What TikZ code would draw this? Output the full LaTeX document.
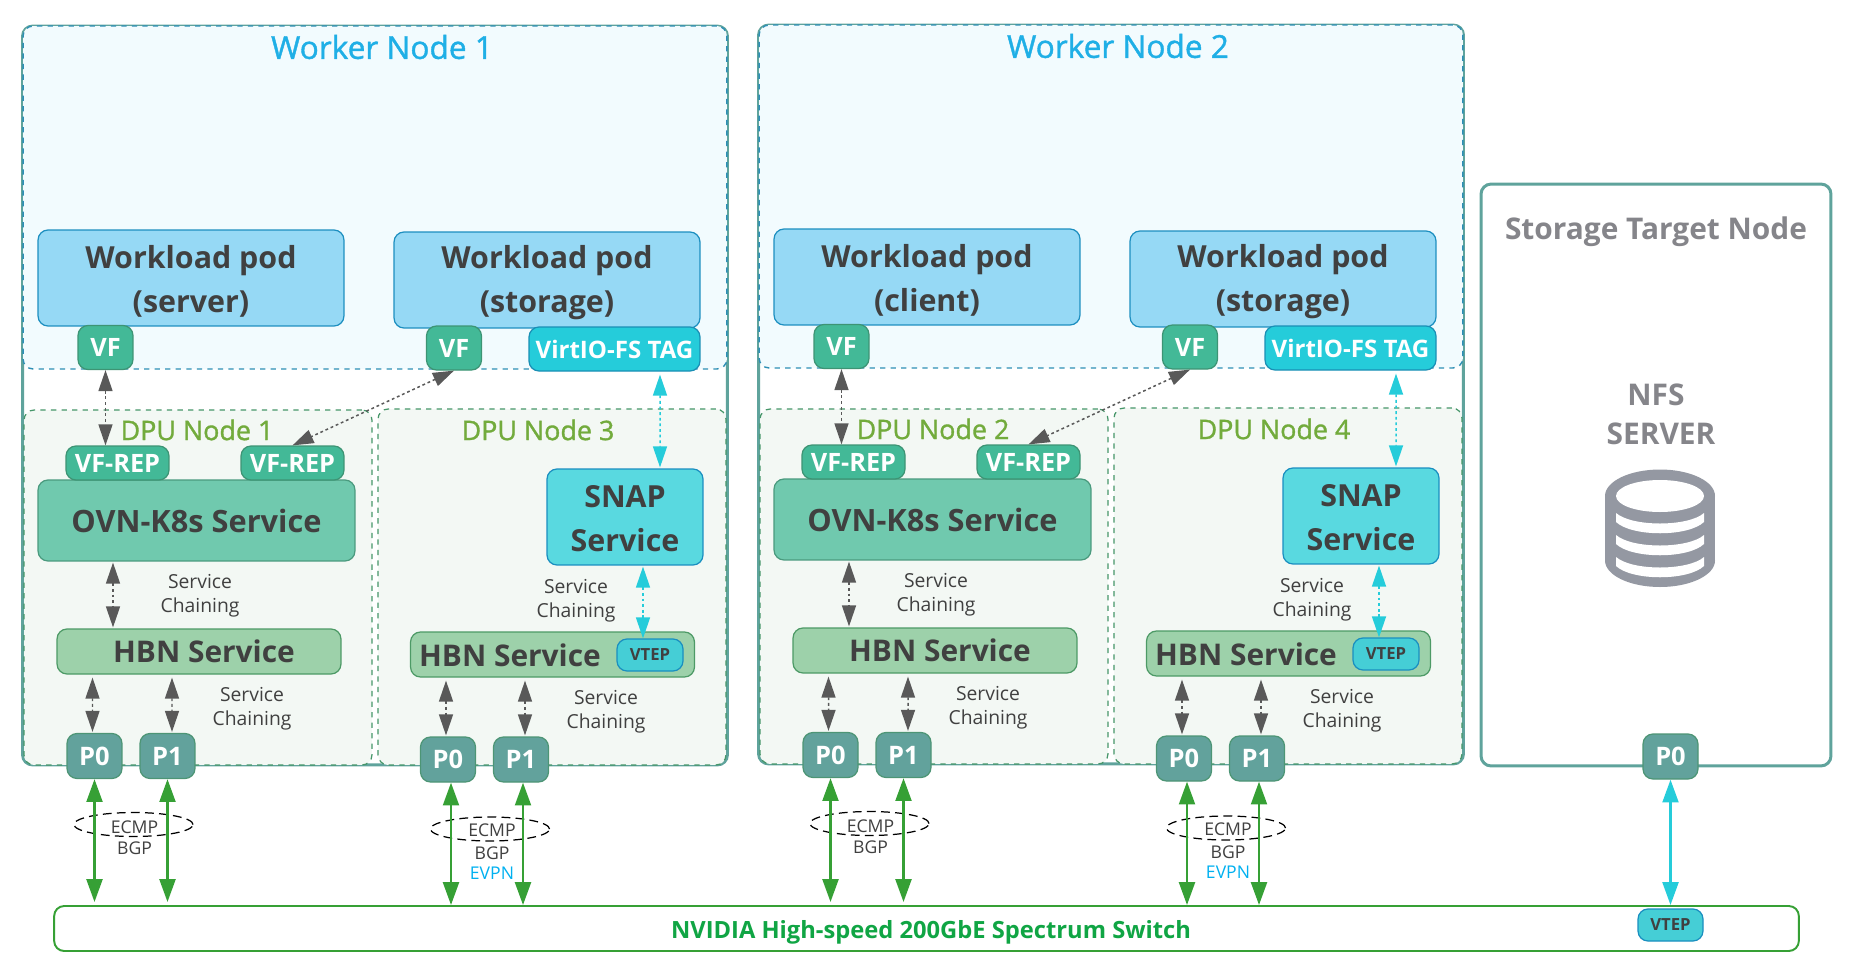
\documentclass[tikz,border=0pt]{standalone}
\usepackage{fontspec}
\setmainfont{Open Sans}
\newfontfamily\medfont[FakeBold=1.2]{Open Sans}
\usetikzlibrary{arrows.meta,calc,shapes.geometric}

\definecolor{txtdark}{HTML}{404040}
\definecolor{wtitle}{HTML}{1FAFE6}
\definecolor{dputitle}{HTML}{72AB3C}
\definecolor{sttitle}{HTML}{85858A}
\definecolor{nvgreen}{HTML}{10A544}
\definecolor{evpnblue}{HTML}{00B0F0}
\definecolor{dbgray}{HTML}{9498A2}

\tikzset{
  workerbox/.style={rectangle,draw={rgb,255:red,95;green,163;blue,156},fill=white,line width=1.7pt,rounded corners=0.2cm},
  hostarea/.style={rectangle,draw={rgb,255:red,46;green,143;blue,181},fill={rgb,255:red,242;green,251;blue,254},
    dashed,line width=0.8pt,rounded corners=0.2cm},
  dpuarea/.style={rectangle,draw={rgb,255:red,70;green,150;blue,105},fill={rgb,255:red,243;green,248;blue,244},
    dashed,line width=0.7pt,rounded corners=0.2cm},
  podbox/.style={rectangle,draw={rgb,255:red,29;green,143;blue,192},fill={rgb,255:red,150;green,217;blue,245},
    rounded corners=0.2cm,line width=0.7pt,minimum width=6.12cm,minimum height=1.92cm,inner sep=0pt},
  bigtext/.style={inner sep=0pt,align=center,text=txtdark,font=\fontsize{17.3}{25}\selectfont\bfseries},
  vfbox/.style={rectangle,draw={rgb,255:red,61;green,148;blue,116},fill={rgb,255:red,67;green,185;blue,151},
    rounded corners=0.2cm,line width=0.7pt,inner sep=0pt,text=white,font=\fontsize{14.4}{15}\selectfont\bfseries},
  tagbox/.style={rectangle,draw={rgb,255:red,26;green,143;blue,181},fill={rgb,255:red,37;green,204;blue,218},
    rounded corners=0.2cm,line width=0.7pt,minimum width=3.42cm,minimum height=0.88cm,inner sep=0pt,
    text=white,font=\fontsize{13.7}{15}\selectfont\bfseries},
  ovnbox/.style={rectangle,draw={rgb,255:red,74;green,154;blue,126},fill={rgb,255:red,112;green,201;blue,174},
    rounded corners=0.2cm,line width=0.7pt,minimum width=6.34cm,minimum height=1.62cm,inner sep=0pt,
    text=txtdark,font=\fontsize{17.5}{20}\selectfont\bfseries},
  snapbox/.style={rectangle,draw={rgb,255:red,26;green,143;blue,192},fill={rgb,255:red,89;green,217;blue,224},
    rounded corners=0.2cm,line width=0.7pt,minimum width=3.12cm,minimum height=1.92cm,inner sep=0pt},
  hbnbox/.style={rectangle,draw={rgb,255:red,77;green,154;blue,102},fill={rgb,255:red,157;green,209;blue,170},
    rounded corners=0.2cm,line width=0.7pt,minimum width=5.68cm,minimum height=0.9cm,inner sep=0pt,
    text=txtdark,font=\fontsize{17}{20}\selectfont\bfseries},
  hbntext/.style={inner sep=0pt,text=txtdark,font=\fontsize{17}{20}\selectfont\bfseries},
  vtepbox/.style={rectangle,draw={rgb,255:red,26;green,143;blue,192},fill={rgb,255:red,69;green,206;blue,214},
    rounded corners=0.2cm,line width=0.7pt,minimum width=1.32cm,minimum height=0.64cm,inner sep=0pt,
    text=txtdark,font=\fontsize{9.5}{11}\selectfont\bfseries},
  portbox/.style={rectangle,draw={rgb,255:red,77;green,149;blue,117},fill={rgb,255:red,98;green,162;blue,156},
    rounded corners=0.2cm,line width=0.7pt,minimum width=1.1cm,minimum height=0.9cm,inner sep=0pt,
    text=white,font=\fontsize{14.5}{15}\selectfont\bfseries},
  switchbox/.style={rectangle,draw={rgb,255:red,54;green,160;blue,53},fill=white,line width=1.1pt,
    rounded corners=0.2cm,minimum width=34.9cm,minimum height=0.9cm,inner sep=0pt},
  switchtext/.style={inner sep=0pt,text=nvgreen,font=\fontsize{13.5}{15}\selectfont\bfseries},
  ecmpring/.style={ellipse,draw=black,dash pattern=on 5pt off 3pt,line width=0.7pt,
    minimum width=2.38cm,minimum height=0.48cm,inner sep=0pt},
  chaintext/.style={inner sep=0pt,align=center,text=txtdark,font=\fontsize{11}{13.5}\selectfont},
  smalltext/.style={inner sep=0pt,text=txtdark,font=\fontsize{10}{11}\selectfont},
  workertitle/.style={inner sep=0pt,text=wtitle,font=\fontsize{18}{20}\medfont},
  dputext/.style={inner sep=0pt,text=dputitle,font=\fontsize{15.3}{17}\medfont},
  greyhead/.style={inner sep=0pt,align=center,text=sttitle,font=\fontsize{17}{22}\selectfont\bfseries},
  chainarrow/.style={draw={rgb,255:red,89;green,89;blue,89},line width=0.85pt,dash pattern=on 1.6pt off 1.6pt,
    {Triangle[length=12pt,width=8pt]}-{Triangle[length=12pt,width=8pt]}},
  cyanarrow/.style={draw={rgb,255:red,37;green,204;blue,218},line width=0.85pt,dash pattern=on 1.6pt off 1.6pt,
    {Triangle[length=12pt,width=8pt]}-{Triangle[length=12pt,width=8pt]}},
  linkarrow/.style={draw={rgb,255:red,54;green,160;blue,53},line width=1.5pt,
    {Triangle[length=13pt,width=9pt]}-{Triangle[length=13pt,width=9pt]}},
  vtepline/.style={draw={rgb,255:red,37;green,204;blue,218},line width=1.5pt,
    {Triangle[length=13pt,width=9pt]}-{Triangle[length=13pt,width=9pt]}},
}

\begin{document}
\begin{tikzpicture}[x=0.02cm,y=-0.02cm]

    \useasboundingbox (0,0) rectangle (1856,970);

    % worker 1
    \node[workerbox,minimum width=14.1cm,minimum height=14.78cm] (w1) at (375,395.5) {};
    \node[hostarea,minimum width=14.08cm,minimum height=6.86cm] (h1) at (375,197.5) {};
    \node[dpuarea,minimum width=6.96cm,minimum height=7.1cm] (d1) at (198,587.5) {};
    \node[dpuarea,minimum width=6.96cm,minimum height=7.12cm] (d3) at (552,587) {};
    \node[workertitle] (t1) at (382,47) {Worker Node 1};
    \node[dputext] (dt1) at (197,430) {DPU Node 1};
    \node[dputext] (dt3) at (538,430) {DPU Node 3};

    \node[podbox] (wp1) at (191,278) {};
    \node[bigtext] (wt1) at (191,281) {Workload pod\\(server)};
    \node[podbox] (wp3) at (547,280) {};
    \node[bigtext] (wt3) at (547,283) {Workload pod\\(storage)};
    \node[vfbox,minimum width=1.1cm,minimum height=0.88cm] (vf1) at (105.5,347.5) {VF};
    \node[vfbox,minimum width=1.1cm,minimum height=0.88cm] (vf3) at (454,348) {VF};
    \node[tagbox] (tag3) at (614.5,349) {VirtIO-FS TAG};

    \node[ovnbox] (ovn1) at (196.5,520.5) {OVN-K8s Service};
    \node[vfbox,minimum width=2.06cm,minimum height=0.68cm] (rep1) at (117.5,463) {VF-REP};
    \node[vfbox,minimum width=2.06cm,minimum height=0.68cm] (rep3) at (292.5,463) {VF-REP};
    \node[snapbox] (snap3) at (625,517) {};
    \node[bigtext] (st3) at (625,519) {SNAP\\Service};

    \node[hbnbox] (hbn1) at (199,651.5) {\hspace{0.2cm}HBN Service};
    \node[hbnbox] (hbn3) at (552.5,654.5) {};
    \node[hbntext] (hbt3) at (510,655) {HBN Service};
    \node[vtepbox] (vt3) at (650,655) {VTEP};

    \node[chaintext] (sc1) at (200,596) {Service\\Chaining};
    \node[chaintext] (sc2) at (252,709) {Service\\Chaining};
    \node[chaintext] (sc3) at (576,601) {Service\\Chaining};
    \node[chaintext] (sc4) at (606,712) {Service\\Chaining};

    \node[portbox] (p01) at (94.5,756) {P0};
    \node[portbox] (p11) at (167.5,756) {P1};
    \node[portbox] (p03) at (448,759.5) {P0};
    \node[portbox] (p13) at (521,759.5) {P1};

    % worker 2
    \node[workerbox,minimum width=14.1cm,minimum height=14.78cm] (w2) at (1111,394.5) {};
    \node[hostarea,minimum width=14.08cm,minimum height=6.86cm] (h2) at (1111,196.5) {};
    \node[dpuarea,minimum width=6.96cm,minimum height=7.1cm] (d2) at (934,586.5) {};
    \node[dpuarea,minimum width=6.96cm,minimum height=7.12cm] (d4) at (1288,586) {};
    \node[workertitle] (t2) at (1118,46) {Worker Node 2};
    \node[dputext] (dt2) at (933,429) {DPU Node 2};
    \node[dputext] (dt4) at (1274,429) {DPU Node 4};

    \node[podbox] (wp2) at (927,277) {};
    \node[bigtext] (wt2) at (927,280) {Workload pod\\(client)};
    \node[podbox] (wp4) at (1283,279) {};
    \node[bigtext] (wt4) at (1283,282) {Workload pod\\(storage)};
    \node[vfbox,minimum width=1.1cm,minimum height=0.88cm] (vf2) at (841.5,346.5) {VF};
    \node[vfbox,minimum width=1.1cm,minimum height=0.88cm] (vf4) at (1190,347) {VF};
    \node[tagbox] (tag4) at (1350.5,348) {VirtIO-FS TAG};

    \node[ovnbox] (ovn2) at (932.5,519.5) {OVN-K8s Service};
    \node[vfbox,minimum width=2.06cm,minimum height=0.68cm] (rep2) at (853.5,462) {VF-REP};
    \node[vfbox,minimum width=2.06cm,minimum height=0.68cm] (rep4) at (1028.5,462) {VF-REP};
    \node[snapbox] (snap4) at (1361,516) {};
    \node[bigtext] (st4) at (1361,518) {SNAP\\Service};

    \node[hbnbox] (hbn2) at (935,650.5) {\hspace{0.2cm}HBN Service};
    \node[hbnbox] (hbn4) at (1288.5,653.5) {};
    \node[hbntext] (hbt4) at (1246,654) {HBN Service};
    \node[vtepbox] (vt4) at (1386,654) {VTEP};

    \node[chaintext] (sc5) at (936,595) {Service\\Chaining};
    \node[chaintext] (sc6) at (988,708) {Service\\Chaining};
    \node[chaintext] (sc7) at (1312,600) {Service\\Chaining};
    \node[chaintext] (sc8) at (1342,711) {Service\\Chaining};

    \node[portbox] (p02) at (830.5,755) {P0};
    \node[portbox] (p12) at (903.5,755) {P1};
    \node[portbox] (p04) at (1184,758.5) {P0};
    \node[portbox] (p14) at (1257,758.5) {P1};

    % storage side
    \node[workerbox,minimum width=7cm,minimum height=11.64cm] (st) at (1656,475) {};
    \node[greyhead] (stt) at (1656,232) {Storage Target Node};
    \node[greyhead] (nfs) at (1661,414) {\hspace{-0.2cm}NFS\\SERVER};
    \node[portbox] (stp) at (1670.5,756.5) {P0};

    \fill[dbgray] (1660,496) ellipse [x radius=55,y radius=26.5];
    \fill[dbgray] (1660,560.5) ellipse [x radius=55,y radius=26.5];
    \fill[dbgray] (1605,496) rectangle (1715,560.5);
    \fill[white] (1660,496) ellipse [x radius=44,y radius=16];
    \fill[white] (1616,513) .. controls (1632,527) and (1688,527) .. (1704,513) -- (1704,522) .. controls (1688,537) and (1632,537) .. (1616,522) -- cycle;
    \fill[white] (1616,535) .. controls (1632,549) and (1688,549) .. (1704,535) -- (1704,544) .. controls (1688,559) and (1632,559) .. (1616,544) -- cycle;
    \fill[white] (1616,557) .. controls (1632,571) and (1688,571) .. (1704,557) -- (1704,566) .. controls (1688,581) and (1632,581) .. (1616,566) -- cycle;

    % switch
    \node[switchbox] (sw) at (926.5,928.5) {};
    \node[switchtext] (swt) at (931,932) {NVIDIA High-speed 200GbE Spectrum Switch};
    \node[vtepbox,minimum width=1.3cm] (vts) at (1670.5,925) {VTEP};

    % ecmp
    \node[ecmpring] (e1) at (133.5,824.5) {};
    \node[ecmpring] (e3) at (490,829) {};
    \node[ecmpring] (e2) at (869.5,823.5) {};
    \node[ecmpring] (e4) at (1226,828) {};
    \node[smalltext] (em1) at (134.5,827) {ECMP};
    \node[smalltext] (bg1) at (134.5,848) {BGP};
    \node[smalltext] (em3) at (492,830) {ECMP};
    \node[smalltext] (bg3) at (492,853) {BGP};
    \node[smalltext,text=evpnblue] (ev3) at (492,873) {EVPN};
    \node[smalltext] (em2) at (870.5,826) {ECMP};
    \node[smalltext] (bg2) at (870.5,847) {BGP};
    \node[smalltext] (em4) at (1228,829) {ECMP};
    \node[smalltext] (bg4) at (1228,852) {BGP};
    \node[smalltext,text=evpnblue] (ev4) at (1228,872) {EVPN};

    % worker 1 paths
    \draw[chainarrow] (vf1.south) -- (vf1.south |- rep1.north);
    \draw[chainarrow] (vf3.south) -- (rep3.north);
    \draw[cyanarrow] ($(tag3.south)+(45.5,3)$) -- ($(snap3.north)+(35,-1)$);
    \draw[chainarrow] ($(ovn1.south)+(-83.5,1)$) -- ($(hbn1.north)+(-86,-1)$);
    \draw[cyanarrow] ($(snap3.south)+(18,1)$) -- ($(vt3.north)+(-7,0)$);
    \draw[chainarrow] ($(hbn1.south)+(-106.5,3)$) -- ($(p01.north)+(-2,-1)$);
    \draw[chainarrow] ($(hbn1.south)+(-27,3)$) -- ($(p11.north)+(4.5,-1)$);
    \draw[chainarrow] ($(hbn3.south)+(-106.5,3)$) -- ($(p03.north)+(-2,-1)$);
    \draw[chainarrow] ($(hbn3.south)+(-27.5,3)$) -- ($(p13.north)+(4,-1)$);
    \draw[linkarrow] (p01.south) -- ($(p01.south |- sw.north)+(0,-3)$);
    \draw[linkarrow] (p11.south) -- ($(p11.south |- sw.north)+(0,-3)$);
    \draw[linkarrow] ($(p03.south)+(3,0)$) -- ($(p03.south |- sw.north)+(3,0)$);
    \draw[linkarrow] ($(p13.south)+(2,0)$) -- ($(p13.south |- sw.north)+(2,0)$);

    % worker 2 paths
    \draw[chainarrow] (vf2.south) -- (vf2.south |- rep2.north);
    \draw[chainarrow] (vf4.south) -- (rep4.north);
    \draw[cyanarrow] ($(tag4.south)+(45.5,3)$) -- ($(snap4.north)+(35,-1)$);
    \draw[chainarrow] ($(ovn2.south)+(-83.5,1)$) -- ($(hbn2.north)+(-86,-1)$);
    \draw[cyanarrow] ($(snap4.south)+(18,1)$) -- ($(vt4.north)+(-7,0)$);
    \draw[chainarrow] ($(hbn2.south)+(-106.5,3)$) -- ($(p02.north)+(-2,-1)$);
    \draw[chainarrow] ($(hbn2.south)+(-27,3)$) -- ($(p12.north)+(4.5,-1)$);
    \draw[chainarrow] ($(hbn4.south)+(-106.5,3)$) -- ($(p04.north)+(-2,-1)$);
    \draw[chainarrow] ($(hbn4.south)+(-27.5,3)$) -- ($(p14.north)+(4,-1)$);
    \draw[linkarrow] (p02.south) -- ($(p02.south |- sw.north)+(0,-3)$);
    \draw[linkarrow] (p12.south) -- ($(p12.south |- sw.north)+(0,-3)$);
    \draw[linkarrow] ($(p04.south)+(3,0)$) -- ($(p04.south |- sw.north)+(3,0)$);
    \draw[linkarrow] ($(p14.south)+(2,0)$) -- ($(p14.south |- sw.north)+(2,0)$);

    % storage path
    \draw[vtepline] (stp.south) -- (stp.south |- sw.north);

\end{tikzpicture}
\end{document}
